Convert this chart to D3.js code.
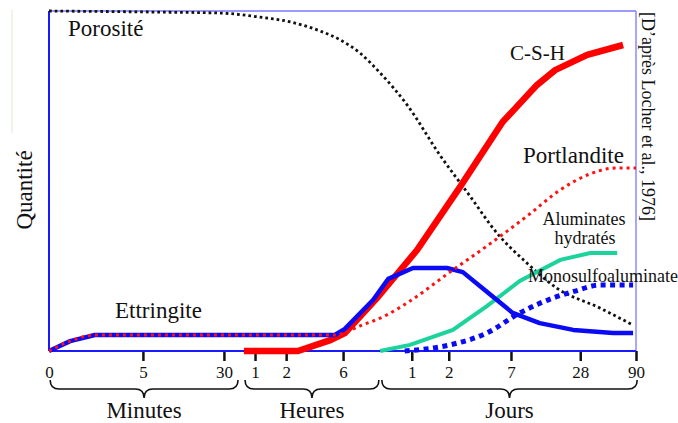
<!DOCTYPE html>
<html>
<head>
<meta charset="utf-8">
<script src="https://cdn.jsdelivr.net/npm/d3@7"></script>
<style>
  body { margin: 0; background: #fff; }
  text { font-family: "Liberation Serif", "Times New Roman", serif; fill: #111; }
</style>
</head>
<body>
<div id="chart"></div>
<script>
// schematic timeline, 0..100 along the x axis, quantity 0..100 on y
var tickLabels = ["0", "5", "30", "1", "2", "6", "1", "2", "7", "28", "90"];
var tickPos = [0, 16, 29.8, 35.1, 40.4, 50.1, 61.8, 68.1, 78.7, 90.5, 100];

var periods = ["Minutes", "Heures", "Jours"];
var periodFrom = [0.2, 33.4, 56.7];
var periodTo = [32.2, 56.2, 100.2];

var ettringite = [[0, 0], [3.6, 2.9], [7.8, 4.7], [48.7, 4.7], [50.4, 6.5], [55.2, 15.0],
  [57.8, 21.2], [62.0, 24.4], [67.8, 24.4], [70.5, 23.2], [74.8, 17.1], [79.0, 11.2],
  [83.6, 8.2], [89.3, 6.2], [96.1, 5.3], [99.5, 5.3]];
var portlandite = [[0, 0], [3.6, 2.9], [7.8, 4.7], [48.7, 4.7], [53.0, 7.4], [57.2, 10.3],
  [61.5, 14.7], [68.3, 23.2], [75.1, 31.5], [81.9, 40.3], [87.1, 47.4], [92.2, 52.1],
  [96.4, 53.8], [100, 53.8]];
var csh = [[33.2, 0], [42.4, 0], [47.9, 3.2], [50.4, 5.3], [55.9, 15.6], [62.7, 29.7],
  [70.0, 48.2], [77.3, 67.4], [83.1, 78.2], [86.2, 82.6], [91.7, 87.1], [97.8, 90.0]];
var aluminates = [[56.4, 0], [61.5, 1.8], [68.8, 6.2], [74.6, 13.2], [80.2, 20.6],
  [87.1, 26.8], [92.2, 28.8], [96.8, 28.8]];
var monosulfo = [[60.6, 0], [68.3, 1.8], [74.6, 5.3], [80.2, 11.2], [85.9, 15.6],
  [89.6, 17.6], [93.9, 19.4], [99.5, 19.4]];
var porosite = [[0, 100], [17.2, 99.7], [29.1, 99.4], [35.9, 98.2], [41.1, 96.8],
  [46.2, 94.1], [49.6, 91.5], [53.0, 87.6], [56.4, 81.8], [61.0, 72.4], [66.6, 57.6],
  [71.7, 45.6], [76.3, 34.7], [81.4, 25.9], [86.5, 18.5], [93.9, 12.6], [99.5, 7.6]];

var width = 678, height = 423;
var plotL = 49, plotR = 636, plotT = 11, plotB = 351;

var svg = d3.select("#chart").append("svg")
  .attr("width", width)
  .attr("height", height);

svg.append("rect").attr("width", width).attr("height", height).attr("fill", "#fff");

var x = d3.scaleLinear().domain([0, 100]).range([plotL, plotR]);
var y = d3.scaleLinear().domain([0, 100]).range([plotB, plotT]);

// faint scan artefact on the far left
svg.append("line").attr("x1", 12).attr("x2", 12).attr("y1", 10).attr("y2", 133)
  .attr("stroke", "#dcebd6").attr("stroke-width", 1);

// frame: light top/right, strong left/bottom
svg.append("line").attr("x1", x(0)).attr("x2", x(100)).attr("y1", y(100)).attr("y2", y(100))
  .attr("stroke", "#9a9aff").attr("stroke-width", 1.8);
svg.append("line").attr("x1", x(100)).attr("x2", x(100)).attr("y1", y(100)).attr("y2", y(0))
  .attr("stroke", "#8a8aff").attr("stroke-width", 1.5);

// ticks (no tick at the origin)
var xAxis = d3.axisBottom(x)
  .tickValues(tickPos)
  .tickSize(10)
  .tickFormat(function(d, i) { return tickLabels[i]; });
var ax = svg.append("g").attr("transform", "translate(0," + plotB + ")").call(xAxis);
ax.select(".domain").remove();
ax.selectAll(".tick line").attr("stroke", "#111").attr("stroke-width", 2.5)
  .attr("opacity", function(d, i) { return i === 0 ? 0 : 1; });
ax.selectAll(".tick text").attr("y", 22).attr("dy", "0.3em")
  .style("font-family", "'Liberation Serif', 'Times New Roman', serif")
  .style("font-size", "17px").attr("fill", "#111");

svg.append("line").attr("x1", x(0)).attr("x2", x(0)).attr("y1", y(100)).attr("y2", y(0))
  .attr("stroke", "#1a1aff").attr("stroke-width", 2);
svg.append("line").attr("x1", x(0)).attr("x2", x(100)).attr("y1", y(0)).attr("y2", y(0))
  .attr("stroke", "#1a1aff").attr("stroke-width", 2);

var line = d3.line().x(function(d) { return x(d[0]); }).y(function(d) { return y(d[1]); });
var smooth = d3.line().curve(d3.curveMonotoneX)
  .x(function(d) { return x(d[0]); }).y(function(d) { return y(d[1]); });

svg.append("path").attr("d", smooth(porosite)).attr("fill", "none")
  .attr("stroke", "#111").attr("stroke-width", 2.8)
  .attr("stroke-dasharray", "2.7,3");

svg.append("path").attr("d", line(aluminates)).attr("fill", "none")
  .attr("stroke", "#1cd39b").attr("stroke-width", 4);

svg.append("path").attr("d", line(csh)).attr("fill", "none")
  .attr("stroke", "#ff0000").attr("stroke-width", 6.5);

svg.append("path").attr("d", line(ettringite)).attr("fill", "none")
  .attr("stroke", "#0a0af5").attr("stroke-width", 4.5).attr("stroke-linejoin", "round");

svg.append("path").attr("d", smooth(portlandite)).attr("fill", "none")
  .attr("stroke", "#ff1010").attr("stroke-width", 3)
  .attr("stroke-dasharray", "3,4");

svg.append("path").attr("d", smooth(monosulfo)).attr("fill", "none")
  .attr("stroke", "#0a0af5").attr("stroke-width", 5)
  .attr("stroke-dasharray", "5,4.5");

// braces under the axis
function brace(x0, x1) {
  var y0 = 380, ym = 389, yt = 398, r = 9, xm = (x0 + x1) / 2;
  var p = d3.path();
  p.moveTo(x0, y0);
  p.quadraticCurveTo(x0, ym, x0 + r, ym);
  p.lineTo(xm - r, ym);
  p.quadraticCurveTo(xm, ym, xm, yt);
  p.quadraticCurveTo(xm, ym, xm + r, ym);
  p.lineTo(x1 - r, ym);
  p.quadraticCurveTo(x1, ym, x1, y0);
  return p.toString();
}

periods.forEach(function(name, i) {
  var a = x(periodFrom[i]), b = x(periodTo[i]);
  svg.append("path").attr("d", brace(a, b)).attr("fill", "none")
    .attr("stroke", "#111").attr("stroke-width", 1.6);
  svg.append("text").attr("x", (a + b) / 2).attr("y", 418)
    .attr("text-anchor", "middle").attr("font-size", 23).text(name);
});

// curve labels
svg.append("text").attr("x", 68).attr("y", 36).attr("font-size", 23).text("Porosité");
svg.append("text").attr("x", 510).attr("y", 60).attr("font-size", 21).text("C-S-H");
svg.append("text").attr("x", 523).attr("y", 163).attr("font-size", 23).text("Portlandite");
svg.append("text").attr("x", 115).attr("y", 318).attr("font-size", 23).text("Ettringite");
svg.append("text").attr("x", 584).attr("y", 225).attr("font-size", 18)
  .attr("text-anchor", "middle").text("Aluminates");
svg.append("text").attr("x", 585).attr("y", 244).attr("font-size", 18)
  .attr("text-anchor", "middle").text("hydratés");
svg.append("text").attr("x", 528).attr("y", 282).attr("font-size", 18).text("Monosulfoaluminate");

svg.append("text").attr("transform", "translate(32,190) rotate(-90)")
  .attr("text-anchor", "middle").attr("font-size", 23).text("Quantité");
svg.append("text").attr("transform", "translate(642,12) rotate(90)")
  .attr("font-size", 18).text("[D’après Locher et al., 1976]");
</script>
</body>
</html>
